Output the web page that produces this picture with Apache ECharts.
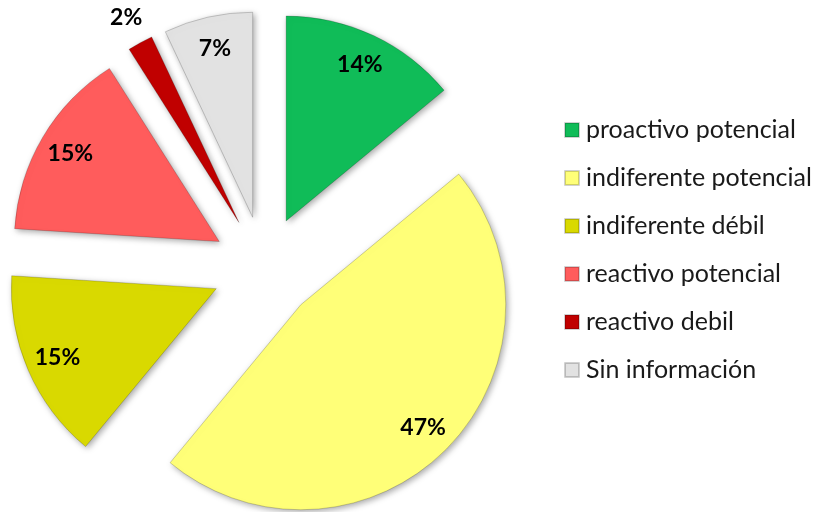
<!DOCTYPE html>
<html>
<head>
<meta charset="utf-8">
<script src="https://cdn.jsdelivr.net/npm/echarts@6/dist/echarts.min.js"></script>
<style>
  html, body { margin: 0; padding: 0; background: #ffffff; }
  #chart { width: 817px; height: 512px; }
</style>
</head>
<body>
<div id="chart"></div>
<script>
// Segment names, shares (percent) and fills
const categories = [
  'proactivo potencial',
  'indiferente potencial',
  'indiferente débil',
  'reactivo potencial',
  'reactivo debil',
  'Sin información'
];
const shares = [14, 47, 15, 15, 2, 7];
const colors = ['#10BC58', '#FFFF78', '#D9D900', '#FF5C5C', '#C00000', '#E2E2E2'];
// Segments whose percentage sits outside the slice
const outsideLabels = ['reactivo debil'];

const CENTER = [264, 268];
const RADIUS = 205;
const EXPLODE = 52;
const labelFont = { fontFamily: 'Lato, "Open Sans", sans-serif', fontSize: 23, fontWeight: 'bold', color: '#000' };

function sliceData(withColor) {
  return categories.map((name, i) => ({
    name: name,
    value: shares[i],
    selected: true,
    itemStyle: withColor
      ? { color: colors[i] }
      : { color: 'rgba(0,0,0,0)', borderWidth: 0, shadowBlur: 0 }
  }));
}

const base = {
  type: 'pie',
  center: CENTER,
  startAngle: 90,
  clockwise: true,
  selectedMode: 'multiple',
  selectedOffset: EXPLODE,
  avoidLabelOverlap: false,
  animation: false,
  silent: true,
  labelLine: { show: false },
  emphasis: { disabled: true }
};

const chart = echarts.init(document.getElementById('chart'), null, { renderer: 'canvas' });
chart.setOption({
  backgroundColor: '#ffffff',
  legend: {
    orient: 'vertical',
    left: 559,
    top: 112,
    icon: 'rect',
    itemWidth: 14,
    itemHeight: 14,
    itemGap: 22,
    data: categories,
    selectedMode: false,
    textStyle: { fontFamily: 'Lato, "Open Sans", sans-serif', fontSize: 25, color: '#1a1a1a', lineHeight: 26, padding: [0, 0, 0, 2] }
  },
  series: [
    Object.assign({}, base, {
      name: 'slices',
      radius: [0, RADIUS],
      label: { show: false },
      itemStyle: {
        borderColor: 'rgba(0,0,0,0.18)',
        borderWidth: 1,
        shadowBlur: 6,
        shadowOffsetX: 2,
        shadowOffsetY: 2,
        shadowColor: 'rgba(0,0,0,0.35)'
      },
      data: sliceData(true)
    }),
    // Percentages placed near the outer rim of each slice
    Object.assign({}, base, {
      name: 'inner-labels',
      radius: [0, 340],
      z: 3,
      label: Object.assign({ position: 'inside', formatter: '{c}%' }, labelFont),
      data: sliceData(false).map(d => Object.assign(d, {
        label: { show: outsideLabels.indexOf(d.name) < 0 }
      }))
    }),
    // Percentages for thin slices, placed beyond the rim
    Object.assign({}, base, {
      name: 'outer-labels',
      radius: [0, 462],
      z: 3,
      label: Object.assign({ position: 'inside', formatter: '{c}%' }, labelFont),
      data: sliceData(false).map(d => Object.assign(d, {
        label: { show: outsideLabels.indexOf(d.name) >= 0 }
      }))
    })
  ]
});
</script>
</body>
</html>
